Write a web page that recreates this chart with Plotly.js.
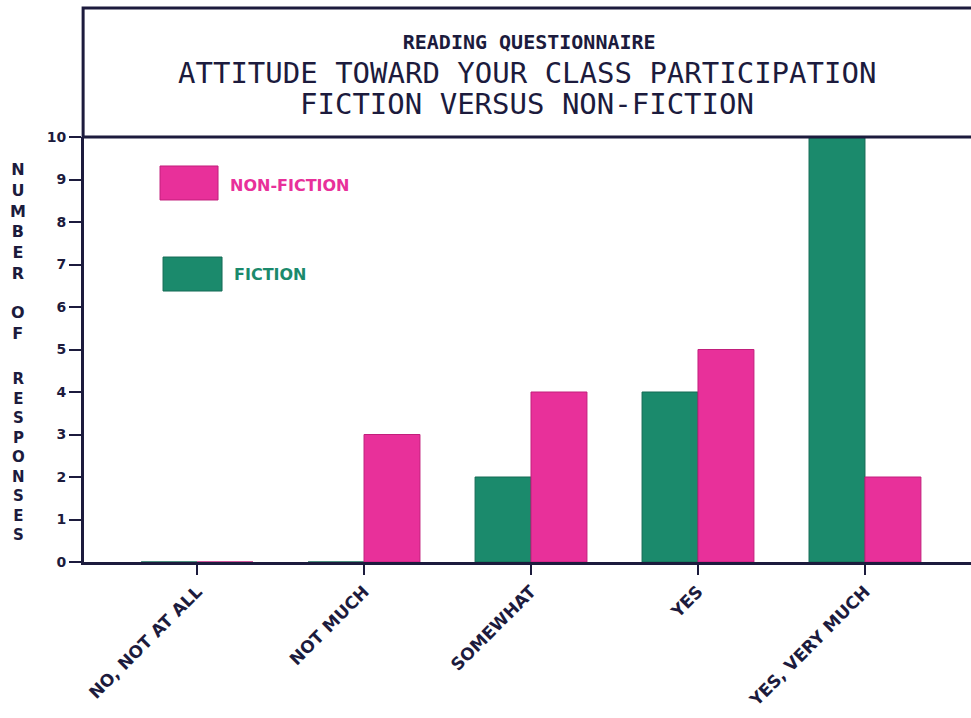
<!DOCTYPE html>
<html>
<head>
<meta charset="utf-8">
<script src="https://cdn.plot.ly/plotly-3.0.1.min.js"></script>
<style>html,body{margin:0;padding:0;background:#fff;}#chart{width:971px;height:718px;}</style>
</head>
<body>
<div id="chart"></div>
<script>
const categories = ['NO, NOT AT ALL', 'NOT MUCH', 'SOMEWHAT', 'YES', 'YES, VERY MUCH'];
const fiction = [0, 0, 2, 4, 10];
const nonFiction = [0, 3, 4, 5, 2];
const yTicks = [0, 1, 2, 3, 4, 5, 6, 7, 8, 9, 10];
const seriesNames = ['FICTION', 'NON-FICTION'];

const ink = '#1c1b3d';
const pink = '#e8309a';
const teal = '#1b8a6c';

const traces = [
  { type: 'bar', name: seriesNames[0], x: categories, y: fiction,
    marker: { color: teal, line: { color: '#156b55', width: 1 } }, showlegend: false },
  { type: 'bar', name: seriesNames[1], x: categories, y: nonFiction,
    marker: { color: pink, line: { color: '#c21f7c', width: 1 } }, showlegend: false }
];

const layout = {
  width: 971, height: 718,
  margin: { l: 84, r: 0, t: 137, b: 156, pad: 0 },
  paper_bgcolor: '#ffffff', plot_bgcolor: '#ffffff',
  barmode: 'group', bargap: 0.33, bargroupgap: 0,
  title: { text: '<b>READING QUESTIONNAIRE</b>', x: 0.545, xanchor: 'center',
    y: 1 - 42 / 718, yanchor: 'middle', yref: 'container',
    font: { family: 'DejaVu Sans Mono', size: 20, color: ink } },
  xaxis: {
    type: 'category', range: [-0.677, 4.635], showgrid: false, zeroline: false,
    showline: true, linecolor: ink, linewidth: 3,
    ticks: 'outside', ticklen: 10, tickwidth: 2, tickcolor: ink,
    tickangle: -45, tickfont: { family: 'DejaVu Sans', size: 17, color: ink, weight: 'bold' }
  },
  yaxis: {
    range: [0, 10], tickvals: yTicks, showgrid: false, zeroline: false,
    showline: true, linecolor: ink, linewidth: 3,
    ticks: 'outside', ticklen: 12, tickwidth: 2, tickcolor: ink,
    tickfont: { family: 'DejaVu Sans', size: 14, color: ink, weight: 'bold' }
  },
  shapes: [
    { type: 'rect', xref: 'paper', yref: 'paper', x0: -0.001, x1: 1.01, y0: 1, y1: (562 - 8) / 425,
      line: { color: ink, width: 3 } },
    { type: 'rect', xref: 'paper', yref: 'paper', x0: 0.0857, x1: 0.1511, y0: 0.8518, y1: 0.9318,
      fillcolor: pink, line: { color: '#c21f7c', width: 1 } },
    { type: 'rect', xref: 'paper', yref: 'paper', x0: 0.0891, x1: 0.1556, y0: 0.6376, y1: 0.7176,
      fillcolor: teal, line: { color: '#156b55', width: 1 } }
  ],
  annotations: [
    { text: 'ATTITUDE TOWARD YOUR CLASS PARTICIPATION', xref: 'paper', yref: 'paper',
      x: 0.499, y: (562 - 73) / 425, xanchor: 'center', yanchor: 'middle', showarrow: false,
      font: { family: 'DejaVu Sans Mono', size: 29, color: ink } },
    { text: 'FICTION VERSUS NON-FICTION', xref: 'paper', yref: 'paper',
      x: 0.499, y: (562 - 104) / 425, xanchor: 'center', yanchor: 'middle', showarrow: false,
      font: { family: 'DejaVu Sans Mono', size: 29, color: ink } },
    { text: seriesNames[1], xref: 'paper', yref: 'paper', x: 0.1623, y: 0.887,
      xanchor: 'left', yanchor: 'middle', showarrow: false,
      font: { family: 'DejaVu Sans', size: 16, color: pink, weight: 'bold' } },
    { text: seriesNames[0], xref: 'paper', yref: 'paper', x: 0.1669, y: 0.6753,
      xanchor: 'left', yanchor: 'middle', showarrow: false,
      font: { family: 'DejaVu Sans', size: 16, color: teal, weight: 'bold' } },
    { text: 'N<br>U<br>M<br>B<br>E<br>R', xref: 'paper', yref: 'paper', x: (18 - 84) / 887, y: (562 - 221) / 425,
      xanchor: 'center', yanchor: 'middle', showarrow: false,
      font: { family: 'DejaVu Sans', size: 16, color: ink, weight: 'bold' } },
    { text: 'O<br>F', xref: 'paper', yref: 'paper', x: (18 - 84) / 887, y: (562 - 323) / 425,
      xanchor: 'center', yanchor: 'middle', showarrow: false,
      font: { family: 'DejaVu Sans', size: 16, color: ink, weight: 'bold' } },
    { text: 'R<br>E<br>S<br>P<br>O<br>N<br>S<br>E<br>S', xref: 'paper', yref: 'paper', x: (18 - 84) / 887, y: (562 - 457) / 425,
      xanchor: 'center', yanchor: 'middle', showarrow: false,
      font: { family: 'DejaVu Sans', size: 15, color: ink, weight: 'bold' } }
  ]
};

Plotly.newPlot('chart', traces, layout, { displayModeBar: false, staticPlot: true });
</script>
</body>
</html>
